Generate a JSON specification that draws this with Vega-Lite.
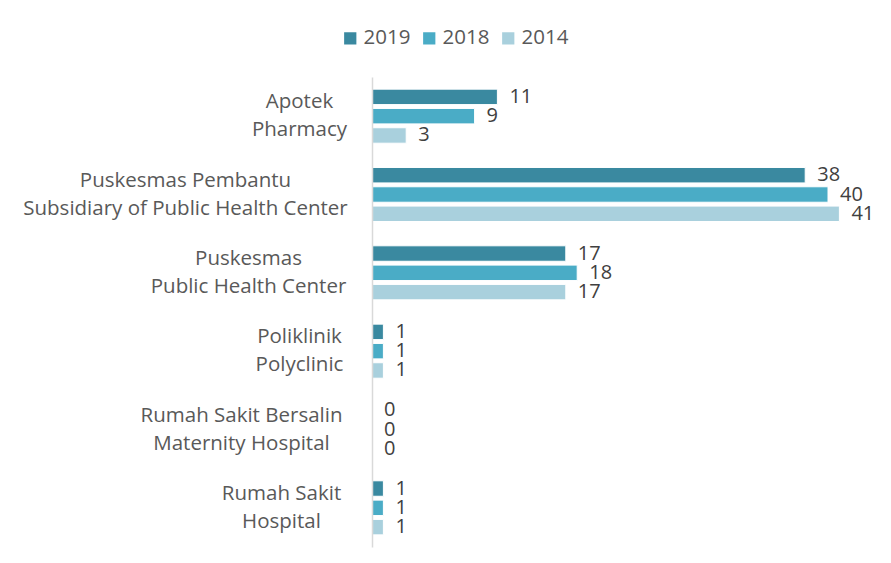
{
  "$schema": "https://vega.github.io/schema/vega-lite/v6.json",
  "autosize": {"type": "none"},
  "padding": {"left": 372, "top": 77, "right": 6, "bottom": 16},
  "width": 513,
  "height": 470,
  "background": "white",
  "data": {
    "values": [
      {"category": "Apotek|Pharmacy", "year": "2019", "value": 11},
      {"category": "Apotek|Pharmacy", "year": "2018", "value": 9},
      {"category": "Apotek|Pharmacy", "year": "2014", "value": 3},
      {"category": "Puskesmas Pembantu|Subsidiary of Public Health Center", "year": "2019", "value": 38},
      {"category": "Puskesmas Pembantu|Subsidiary of Public Health Center", "year": "2018", "value": 40},
      {"category": "Puskesmas Pembantu|Subsidiary of Public Health Center", "year": "2014", "value": 41},
      {"category": "Puskesmas|Public Health Center", "year": "2019", "value": 17},
      {"category": "Puskesmas|Public Health Center", "year": "2018", "value": 18},
      {"category": "Puskesmas|Public Health Center", "year": "2014", "value": 17},
      {"category": "Poliklinik|Polyclinic", "year": "2019", "value": 1},
      {"category": "Poliklinik|Polyclinic", "year": "2018", "value": 1},
      {"category": "Poliklinik|Polyclinic", "year": "2014", "value": 1},
      {"category": "Rumah Sakit Bersalin|Maternity Hospital", "year": "2019", "value": 0},
      {"category": "Rumah Sakit Bersalin|Maternity Hospital", "year": "2018", "value": 0},
      {"category": "Rumah Sakit Bersalin|Maternity Hospital", "year": "2014", "value": 0},
      {"category": "Rumah Sakit|Hospital", "year": "2019", "value": 1},
      {"category": "Rumah Sakit|Hospital", "year": "2018", "value": 1},
      {"category": "Rumah Sakit|Hospital", "year": "2014", "value": 1}
    ]
  },
  "encoding": {
    "y": {
      "field": "category",
      "type": "nominal",
      "sort": null,
      "scale": {"paddingInner": 0.31, "paddingOuter": 0.155},
      "axis": {
        "title": null,
        "ticks": false,
        "tickSize": 0,
        "zindex": 1,
        "domainColor": "#d9d9d9",
        "domainWidth": 1.5,
        "labelExpr": "split(datum.label, '|')",
        "labelAlign": "center",
        "labelBaseline": "middle",
        "labelOffset": -14,
        "labelFont": "Open Sans",
        "labelFontSize": 20.5,
        "labelLineHeight": 28,
        "labelColor": "#595959",
        "labelLimit": 0,
        "labelPadding": {
          "condition": [
            {"test": "indexof(datum.value, 'Apotek') === 0", "value": 73},
            {"test": "indexof(datum.value, 'Puskesmas Pembantu') === 0", "value": 187},
            {"test": "datum.value === 'Puskesmas|Public Health Center'", "value": 124},
            {"test": "indexof(datum.value, 'Poliklinik') === 0", "value": 73},
            {"test": "indexof(datum.value, 'Rumah Sakit Bersalin') === 0", "value": 131}
          ],
          "value": 91
        }
      }
    },
    "yOffset": {
      "field": "year",
      "type": "nominal",
      "sort": ["2019", "2018", "2014"],
      "scale": {"paddingInner": 0.2, "paddingOuter": 0}
    },
    "x": {
      "field": "value",
      "type": "quantitative",
      "scale": {"domain": [0, 45], "nice": false},
      "axis": null
    }
  },
  "layer": [
    {
      "mark": {"type": "bar", "stroke": "white", "strokeWidth": 1},
      "encoding": {
        "color": {
          "field": "year",
          "type": "nominal",
          "sort": ["2019", "2018", "2014"],
          "scale": {"domain": ["2019", "2018", "2014"], "range": ["#3a89a0", "#4aacc6", "#a9d0dd"]},
          "legend": {
            "title": null,
            "orient": "none",
            "direction": "horizontal",
            "legendX": -32,
            "legendY": -49,
            "symbolType": "square",
            "symbolSize": 150,
            "symbolStrokeWidth": 0,
            "labelFont": "Open Sans",
            "labelFontSize": 20.5,
            "labelColor": "#595959",
            "labelOffset": 3,
            "columnPadding": 8
          }
        }
      }
    },
    {
      "mark": {"type": "text", "align": "left", "baseline": "middle", "dx": 12, "font": "Open Sans", "fontSize": 20, "color": "#404040"},
      "encoding": {
        "text": {"field": "value", "type": "quantitative"}
      }
    }
  ],
  "config": {"view": {"stroke": null}}
}
